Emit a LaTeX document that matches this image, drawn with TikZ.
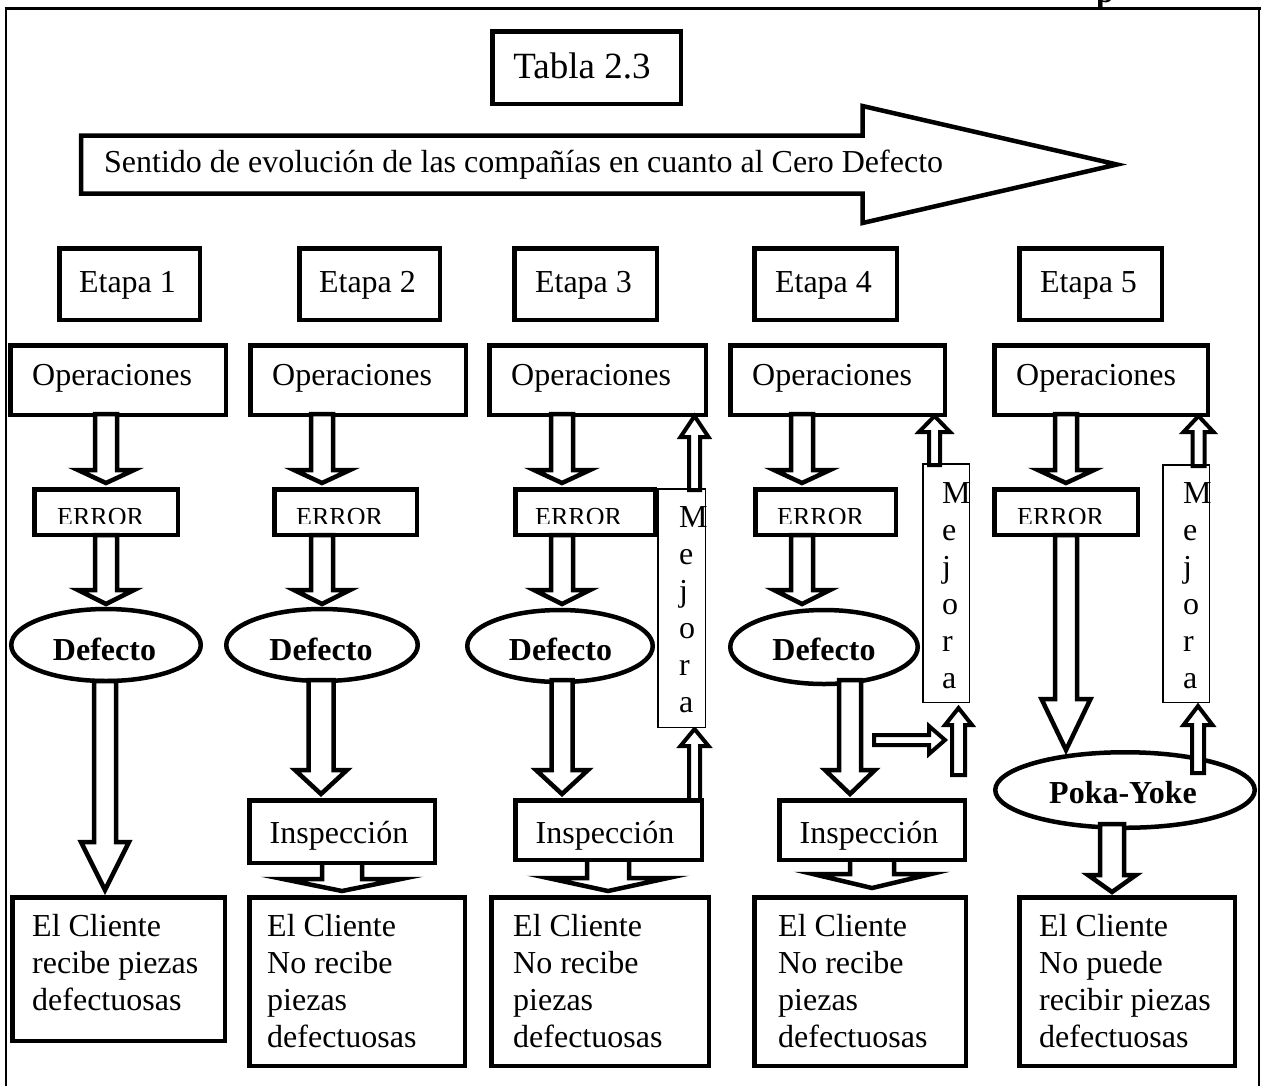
\documentclass[tikz,border=0pt]{standalone}
\usepackage{fontspec}
\setmainfont{Liberation Serif}
\usetikzlibrary{shapes.geometric}
\tikzset{
  sbox/.style={draw, line width=4.5pt, fill=white, inner sep=0pt},
  tbox/.style={draw, line width=1.5pt, fill=white, inner sep=0pt},
  oval/.style={ellipse, draw, line width=4.5pt, fill=white, inner sep=0pt},
  blkarrow/.style={draw, line width=4.5pt, fill=white, line join=miter},
  smallarrow/.style={line width=4pt},
  txt/.style={font=\fontsize{32}{38}\selectfont, inner sep=0pt},
  btxt/.style={font=\fontsize{32}{38}\selectfont\bfseries, inner sep=0pt},
  etxt/.style={font=\fontsize{26}{30}\selectfont, inner sep=0pt},
}
% name, style, x1, y1, x2, y2, shrink
\newcommand\rbox[7]{\node[#2, minimum width={(#5)-(#3)-(#7)}, minimum height={(#6)-(#4)-(#7)}] (#1) at ({((#3)+(#5))/2},{((#4)+(#6))/2}) {};}
% vertical block arrow: [style] cx, ytail, ybase, ytip, shaft half, head half
\newcommand\blkv[7][]{\draw[blkarrow,#1] ({#2-#6},#3) -- ({#2-#6},#4) -- ({#2-#7},#4) -- (#2,#5) -- ({#2+#7},#4) -- ({#2+#6},#4) -- ({#2+#6},#3) -- cycle;}
% horizontal block arrow: [style] cy, xtail, xbase, xtip, shaft half, head half
\newcommand\blkh[7][]{\draw[blkarrow,#1] (#3,{#2-#6}) -- (#4,{#2-#6}) -- (#4,{#2-#7}) -- (#5,#2) -- (#4,{#2+#7}) -- (#4,{#2+#6}) -- (#3,{#2+#6}) -- cycle;}
\begin{document}
\begin{tikzpicture}[x=1pt,y=-1pt]
\useasboundingbox (0,0) rectangle (1268,1085);
% frame
\draw[line width=2pt] (6,1100) -- (6,8);
\draw[line width=2pt] (1259,8) -- (1259,1100);
\draw[line width=3pt] (4.5,8) -- (1260.5,8);
\node[btxt, anchor=base] (title) at (1105,2) {p};
% Tabla
\rbox{tabla}{sbox}{490}{29}{683}{106}{4.5}
\node[inner sep=0pt, font=\fontsize{37}{40}\selectfont, anchor=base] (tablat) at (582,78) {Tabla 2.3};
% big arrow
\draw[line width=4.5pt, line join=miter] (81,135.5) -- (862.5,135.5) -- (862.5,106) -- (1117,164.5) -- (862.5,223) -- (862.5,193.5) -- (81,193.5) -- cycle;
\node[txt, anchor=base west] (sentido) at (104,172) {Sentido de evolución de las compañías en cuanto al Cero Defecto};
% Etapa boxes
\rbox{et1}{sbox}{57}{246}{202}{322}{4.5}
\rbox{et2}{sbox}{297}{246}{442}{322}{4.5}
\rbox{et3}{sbox}{512}{246}{659}{322}{4.5}
\rbox{et4}{sbox}{752}{246}{899}{322}{4.5}
\rbox{et5}{sbox}{1017}{246}{1164}{322}{4.5}
\node[txt, anchor=base] (et1t) at (127.5,292) {Etapa 1};
\node[txt, anchor=base] (et2t) at (367.5,292) {Etapa 2};
\node[txt, anchor=base] (et3t) at (583.5,292) {Etapa 3};
\node[txt, anchor=base] (et4t) at (823.5,292) {Etapa 4};
\node[txt, anchor=base] (et5t) at (1088.5,292) {Etapa 5};
% Operaciones
\rbox{op1}{sbox}{8}{343}{228}{417}{4.5}
\rbox{op2}{sbox}{248}{343}{468}{417}{4.5}
\rbox{op3}{sbox}{487}{343}{708}{417}{4.5}
\rbox{op4}{sbox}{728}{343}{947}{417}{4.5}
\rbox{op5}{sbox}{992}{343}{1210}{417}{4.5}
\node[txt, anchor=base west] (op1t) at (32,385) {Operaciones};
\node[txt, anchor=base west] (op2t) at (272,385) {Operaciones};
\node[txt, anchor=base west] (op3t) at (511,385) {Operaciones};
\node[txt, anchor=base west] (op4t) at (752,385) {Operaciones};
\node[txt, anchor=base west] (op5t) at (1016,385) {Operaciones};
% ERROR
\rbox{er1}{sbox}{32}{487}{180}{537}{4.5}
\rbox{er2}{sbox}{272}{487}{419}{537}{4.5}
\rbox{er3}{sbox}{513}{487}{657}{537}{4.5}
\rbox{er4}{sbox}{753}{487}{898}{537}{4.5}
\rbox{er5}{sbox}{992}{487}{1140}{537}{4.5}
\begin{scope}
\clip (0,490) rectangle (1268,523);
\node[etxt, anchor=base west] (er1t) at (57,525.5) {ERROR};
\node[etxt, anchor=base west] (er2t) at (296,525.5) {ERROR};
\node[etxt, anchor=base west] (er3t) at (535,525.5) {ERROR};
\node[etxt, anchor=base west] (er4t) at (777,525.5) {ERROR};
\node[etxt, anchor=base west] (er5t) at (1017,525.5) {ERROR};
\end{scope}
% Defecto ellipses
\node[oval, minimum width=189.5, minimum height=72] (d1) at (106,645) {};
\node[oval, minimum width=191.5, minimum height=72] (d2) at (322,645) {};
\node[oval, minimum width=185.5, minimum height=72] (d3) at (560,646) {};
\node[oval, minimum width=187.5, minimum height=74] (d4) at (824,647) {};
\node[btxt, anchor=base] (d1t) at (104.5,660) {Defecto};
\node[btxt, anchor=base] (d2t) at (321,660) {Defecto};
\node[btxt, anchor=base] (d3t) at (560.5,660) {Defecto};
\node[btxt, anchor=base] (d4t) at (824,660) {Defecto};
% Poka-Yoke
\node[oval, minimum width=259.5, minimum height=75.5] (poka) at (1125,790) {};
% Cliente boxes
\rbox{cl1}{sbox}{10}{895}{227}{1043}{4.5}
\rbox{cl2}{sbox}{247}{895}{467}{1068}{4.5}
\rbox{cl3}{sbox}{489}{895}{711}{1068}{4.5}
\rbox{cl4}{sbox}{752}{895}{968}{1068}{4.5}
\rbox{cl5}{sbox}{1017}{895}{1237}{1068}{4.5}
\foreach \t [count=\i] in {El Cliente, recibe piezas, defectuosas}
  \node[txt, anchor=base west] (c1l\i) at (32,{936+37*(\i-1)}) {\t};
\foreach \t [count=\i] in {El Cliente, No recibe, piezas, defectuosas}
  \node[txt, anchor=base west] (c2l\i) at (267,{936+37*(\i-1)}) {\t};
\foreach \t [count=\i] in {El Cliente, No recibe, piezas, defectuosas}
  \node[txt, anchor=base west] (c3l\i) at (513,{936+37*(\i-1)}) {\t};
\foreach \t [count=\i] in {El Cliente, No recibe, piezas, defectuosas}
  \node[txt, anchor=base west] (c4l\i) at (778,{936+37*(\i-1)}) {\t};
\foreach \t [count=\i] in {El Cliente, No puede, recibir piezas, defectuosas}
  \node[txt, anchor=base west] (c5l\i) at (1039,{936+37*(\i-1)}) {\t};
% arrows Operaciones -> ERROR
\foreach \c in {106,322,562,802,1066} { \blkv{\c}{414}{470}{483}{11}{28} }
% arrows ERROR -> Defecto
\foreach \c in {106,322,562,802} { \blkv{\c}{535}{590}{604}{11}{28} }
% ERROR -> Poka-Yoke
\blkv{1066}{535}{699}{750}{11}{24.5}
% Defecto -> down
\blkv{105}{681}{842}{890}{11}{24}
\blkv{321}{680}{770}{794}{12.5}{26}
\blkv{562}{680}{770}{794}{10.5}{26}
\blkv{850}{680}{770}{794}{11}{25}
% Inspeccion -> Cliente (behind boxes)
\blkv{342}{850}{879}{891}{20}{59}
\blkv{608}{850}{878}{891}{21}{60}
\blkv{872}{850}{874}{888}{22}{59}
% Poka-Yoke -> Cliente
\blkv{1112}{824}{875}{892}{12}{24}
% Mejora col3 bottom arrow (behind Inspeccion)
\blkv[smallarrow]{694.5}{800}{746}{729}{5.5}{14}
% Inspeccion boxes
\rbox{in2}{sbox}{247}{798}{437}{865}{4.5}
\rbox{in3}{sbox}{513}{798}{704}{862}{4.5}
\rbox{in4}{sbox}{777}{798}{967}{862}{4.5}
\node[txt, anchor=base] (in2t) at (339,843) {Inspección};
\node[txt, anchor=base] (in3t) at (605,843) {Inspección};
\node[txt, anchor=base] (in4t) at (869,843) {Inspección};
% Mejora boxes
\rbox{mj3}{tbox}{657}{488}{706}{728}{1.5}
\rbox{mj4}{tbox}{922}{463}{970}{703}{1.5}
\rbox{mj5}{tbox}{1162}{464}{1210}{703}{1.5}
\foreach \l [count=\i] in {M,e,j,o,r,a} {
  \node[txt, anchor=base west] (m3l\i) at (679,{527+37*(\i-1)}) {\l};
  \node[txt, anchor=base west] (m4l\i) at (942,{503+37*(\i-1)}) {\l};
  \node[txt, anchor=base west] (m5l\i) at (1183,{503+37*(\i-1)}) {\l};
}
% Mejora arrows
\blkv[smallarrow]{694.5}{490}{437}{416}{5.5}{14}
\blkv[smallarrow]{934.5}{465}{432}{416}{5.5}{15.5}
\blkv[smallarrow]{958.5}{775}{725}{708}{6.5}{13.5}
\blkh[smallarrow]{740}{874}{929}{945}{5}{14}
\blkv[smallarrow]{1198.5}{466}{432}{416}{6}{15}
\blkv[smallarrow]{1198}{773}{725}{706}{6}{14.5}
\node[btxt, anchor=base] (pokat) at (1123,803) {Poka-Yoke};
\end{tikzpicture}
\end{document}
